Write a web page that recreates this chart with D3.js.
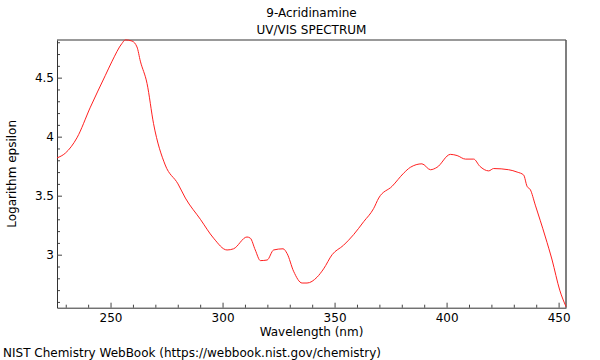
<!DOCTYPE html>
<html>
<head>
<meta charset="utf-8">
<script src="https://cdn.jsdelivr.net/npm/d3@7"></script>
<style>
  html, body { margin: 0; padding: 0; background: #fff; }
  svg { display: block; font-family: "DejaVu Sans", sans-serif; }
</style>
</head>
<body>
<svg id="chart" width="600" height="360"></svg>
<script>
const titleLines = ["9-Acridinamine", "UV/VIS SPECTRUM"];
const xLabel = "Wavelength (nm)";
const yLabel = "Logarithm epsilon";
const footer = "NIST Chemistry WebBook (https://webbook.nist.gov/chemistry)";

const wavelength = [226.1, 229.8, 235.0, 241.0, 247.7, 250.7, 255.1, 256.6, 259.6, 261.8,
  263.3, 266.3, 269.2, 274.4, 280.1, 283.4, 290.1, 296.0, 302.0, 304.9,
  310.9, 312.4, 314.6, 316.9, 319.9, 322.8, 327.0, 328.8, 331.7, 335.5,
  337.7, 342.2, 345.1, 348.9, 354.0, 358.5, 363.0, 367.4, 369.7, 375.7,
  380.8, 383.8, 389.0, 392.8, 395.7, 401.7, 404.7, 408.4, 412.1, 414.8,
  418.8, 421.0, 427.7, 431.5, 434.4, 435.9, 437.4, 439.6, 444.1, 447.1,
  450.5, 453.3];
const logEpsilon = [3.82, 3.86, 3.99, 4.25, 4.52, 4.64, 4.79, 4.82, 4.81, 4.76,
  4.64, 4.45, 4.11, 3.76, 3.60, 3.48, 3.30, 3.14, 3.04, 3.05,
  3.15, 3.14, 3.04, 2.95, 2.955, 3.04, 3.05, 3.01, 2.86, 2.76,
  2.76, 2.81, 2.88, 3.00, 3.08, 3.17, 3.28, 3.39, 3.48, 3.58,
  3.69, 3.74, 3.77, 3.72, 3.74, 3.85, 3.84, 3.81, 3.81, 3.75,
  3.71, 3.73, 3.72, 3.70, 3.675, 3.58, 3.55, 3.42, 3.15, 2.955,
  2.70, 2.56];

const xMajorTicks = [250, 300, 350, 400, 450];
const yMajorTicks = [3, 3.5, 4, 4.5];
const yTickLabels = ["3", "3.5", "4", "4.5"];

const xDomain = [226.1, 453.3];
const yDomain = [2.551, 4.819];

const mLeft = 57, mRight = 566, mTop = 40, mBottom = 307.7;
const svg = d3.select("#chart");

const x = d3.scaleLinear().domain(xDomain).range([mLeft, mRight]);
const y = d3.scaleLinear().domain(yDomain).range([mBottom, mTop]);

// frame top and right
svg.append("line").attr("x1", mLeft).attr("x2", mRight).attr("y1", mTop).attr("y2", mTop)
  .attr("stroke", "#999").attr("stroke-width", 2);
svg.append("line").attr("x1", mRight).attr("x2", mRight).attr("y1", mTop).attr("y2", mBottom)
  .attr("stroke", "#555").attr("stroke-width", 1.5);

// minor ticks
const xMinor = d3.range(230, 454, 10).filter(v => !xMajorTicks.includes(v));
const yMinor = d3.range(26, 49, 1).map(v => v / 10).filter(v => v >= yDomain[0] && v <= yDomain[1] && !yMajorTicks.some(t => Math.abs(t - v) < 1e-6));

const gx = svg.append("g").attr("transform", `translate(0,${mBottom})`);
gx.call(d3.axisBottom(x).tickValues(xMinor).tickSize(-3).tickFormat(""))
  .call(g => g.select(".domain").remove());
gx.selectAll("line").attr("stroke", "#444");
const gx2 = svg.append("g").attr("transform", `translate(0,${mBottom})`);
gx2.call(d3.axisBottom(x).tickValues(xMajorTicks).tickSize(-5).tickSizeOuter(0).tickPadding(6).tickFormat(d3.format("d")));
gx2.select(".domain").attr("stroke", "#333");
gx2.selectAll("line").attr("stroke", "#444");
gx2.selectAll("text").attr("font-size", 12).attr("fill", "#000").attr("font-family", "DejaVu Sans");

const gy = svg.append("g").attr("transform", `translate(${mLeft},0)`);
gy.call(d3.axisLeft(y).tickValues(yMinor).tickSize(-3).tickFormat(""))
  .call(g => g.select(".domain").remove());
gy.selectAll("line").attr("stroke", "#444");
const gy2 = svg.append("g").attr("transform", `translate(${mLeft},0)`);
gy2.call(d3.axisLeft(y).tickValues(yMajorTicks).tickSize(-5).tickSizeOuter(0).tickPadding(3)
  .tickFormat((d, i) => yTickLabels[i]));
gy2.select(".domain").attr("stroke", "#333");
gy2.selectAll("line").attr("stroke", "#444");
gy2.selectAll("text").attr("font-size", 12).attr("fill", "#000").attr("font-family", "DejaVu Sans");

// curve
const pts = wavelength.map((w, i) => [w, logEpsilon[i]]);
svg.append("path").datum(pts)
  .attr("fill", "none").attr("stroke", "#ff2020").attr("stroke-width", 1)
  .attr("d", d3.line().x(d => x(d[0])).y(d => y(d[1])).curve(d3.curveMonotoneX));

// titles
const cx = (mLeft + mRight) / 2;
svg.append("text").attr("x", cx).attr("y", 17).attr("text-anchor", "middle").attr("font-size", 12).text(titleLines[0]);
svg.append("text").attr("x", cx).attr("y", 34).attr("text-anchor", "middle").attr("font-size", 12).text(titleLines[1]);
svg.append("text").attr("x", cx).attr("y", 336).attr("text-anchor", "middle").attr("font-size", 12).text(xLabel);
svg.append("text").attr("transform", `translate(16,${(mTop + mBottom) / 2}) rotate(-90)`)
  .attr("text-anchor", "middle").attr("font-size", 12).text(yLabel);
svg.append("text").attr("x", 3).attr("y", 357).attr("font-size", 12).text(footer);
</script>
</body>
</html>
